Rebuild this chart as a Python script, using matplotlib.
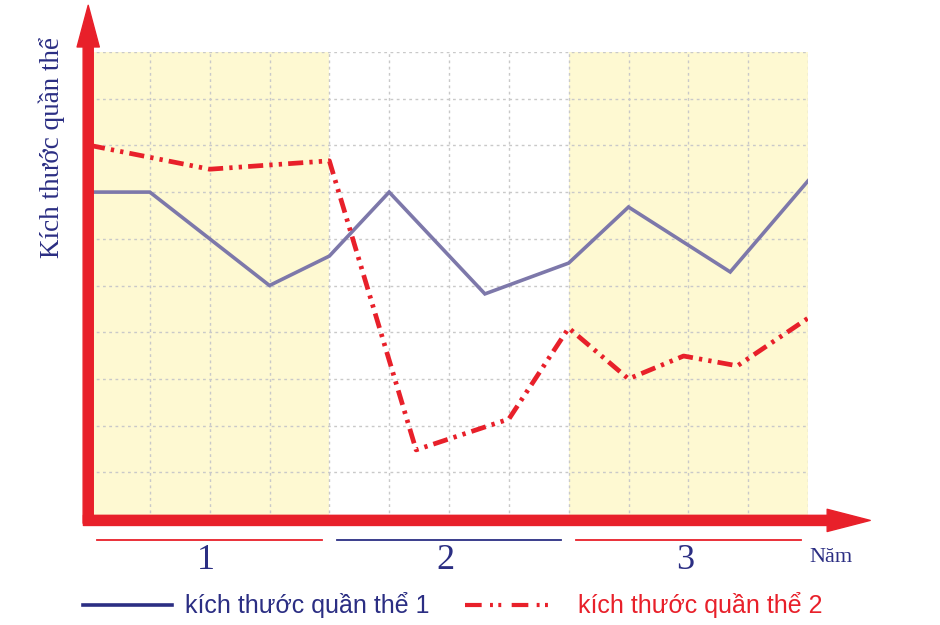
import matplotlib
matplotlib.use("Agg")
import matplotlib.pyplot as plt
from matplotlib.patches import FancyArrowPatch
from matplotlib.lines import Line2D

# ---- data ----
periods = ["1", "2", "3"]
period_bounds = [(0, 4), (4, 8), (8, 12)]
pop1_x = [0, 1, 3, 4, 5, 6.6, 8, 9, 10.7, 12]
pop1_y = [7.0, 7.0, 5.0, 5.63, 7.0, 4.82, 5.48, 6.68, 5.29, 7.24]
pop2_x = [0, 2, 4, 5.45, 7, 8, 9, 9.92, 10.82, 12]
pop2_y = [8.0, 7.49, 7.67, 1.48, 2.14, 4.09, 3.0, 3.49, 3.28, 4.3]
label1 = "kích thước quần thể 1"
label2 = "kích thước quần thể 2"
ylabel = "Kích thước quần thể"
xlabel = "Năm"

RED = "#E8202A"
NAVY = "#2B2E83"
PURPLE = "#7D78AA"
YELLOW = "#FEF9D2"

fig = plt.figure(figsize=(9.4, 6.25), dpi=100)
ax = fig.add_axes([90/940, (625-519)/625, 718/940, 467/625])
ax.set_xlim(0, 12)
ax.set_ylim(0, 10)
for s in ax.spines.values():
    s.set_visible(False)
ax.set_xticks([])
ax.set_yticks([])

# shaded periods
for i, (a, b) in enumerate(period_bounds):
    if i != 1:
        ax.axvspan(a, b, color=YELLOW, zorder=0, lw=0)

# grid
for gx in range(1, 13):
    ax.plot([gx, gx], [0, 10], color="#C9C9C9", lw=1, ls=(0, (2, 2.5)), zorder=1)
for gy in range(1, 11):
    ax.plot([0, 12], [gy, gy], color="#C9C9C9", lw=1, ls=(0, (2, 2.5)), zorder=1)

# series
ax.plot(pop1_x, pop1_y, color=PURPLE, lw=2.6, zorder=3, solid_joinstyle="miter")
ax.plot(pop2_x, pop2_y, color=RED, lw=3.4, zorder=3,
        ls=(0, (3.2, 1.3, 0.7, 1.3, 0.7, 1.3)))

# axes arrows
ya = FancyArrowPatch((-0.03, -0.09), (-0.03, 11.0), transform=ax.transData, clip_on=False,
                     arrowstyle="simple,head_length=30,head_width=16,tail_width=7.3",
                     color=RED, shrinkA=0, shrinkB=0, zorder=5)
xa = FancyArrowPatch((-0.11, -0.03), (13.04, -0.03), transform=ax.transData, clip_on=False,
                     arrowstyle="simple,head_length=31,head_width=16,tail_width=7.3",
                     color=RED, shrinkA=0, shrinkB=0, zorder=5)
ax.add_patch(ya)
ax.add_patch(xa)

# period underlines and labels
seg_colors = [RED, NAVY, RED]
for (a, b), lab, c in zip(period_bounds, periods, seg_colors):
    ax.plot([a + 0.12, b - 0.12], [-0.45, -0.45], color=c, lw=1.3, clip_on=False)
    ax.text((a + b) / 2 - 0.06, -0.88, lab, color=NAVY, fontsize=26,
            family="Liberation Serif", ha="center", va="center", clip_on=False)
ax.text(12.38, -0.82, xlabel, color=NAVY, fontsize=16, family="Liberation Serif",
        ha="center", va="center")

# y label
fig.text(52/940, 1 - 148/625, ylabel, rotation=90, color=NAVY, fontsize=19.5,
         family="Liberation Serif", ha="center", va="center")

# legend (manual)
ly = 1 - 605/625
fig.add_artist(Line2D([83/940, 172/940], [ly, ly], color=NAVY, lw=2.6))
fig.text(185/940, ly, label1, color=NAVY, fontsize=18, family="Liberation Sans",
         ha="left", va="center")
fig.add_artist(Line2D([465/940, 550/940], [ly, ly], color=RED, lw=3,
                      ls=(0, (4, 2, 0.7, 1.3, 0.7, 2.5))))
fig.text(578/940, ly, label2, color=RED, fontsize=18, family="Liberation Sans",
         ha="left", va="center")

fig.savefig("out.png", dpi=100)
